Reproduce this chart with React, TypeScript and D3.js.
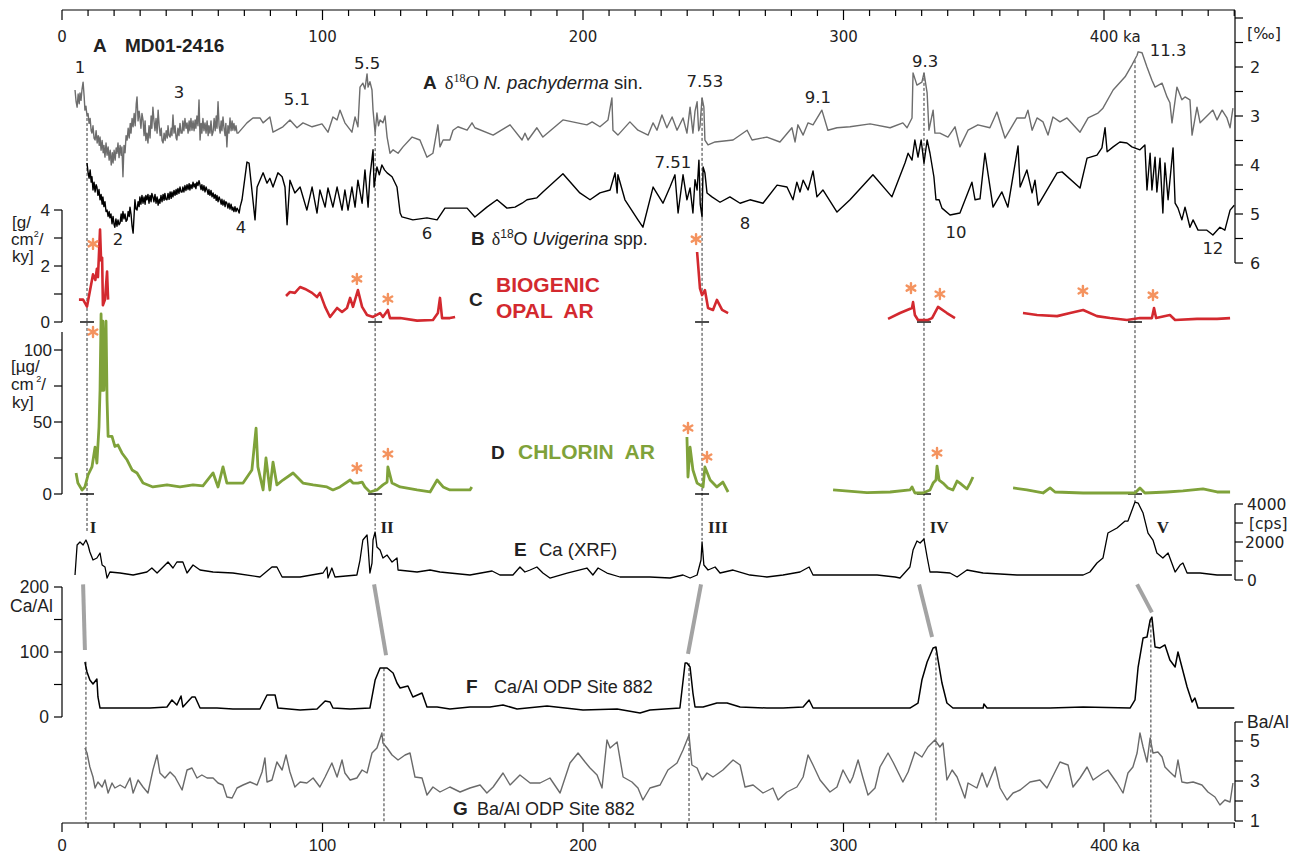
import React from "react";
import * as d3 from "d3";

type P = [number, number];

// ---------- DATA (age ka, value) ----------
// A: d18O N. pachyderma sin. (permil)
const pachyderma: P[] = [
  [5.0,2.47],[5.4,2.70],[5.8,2.82],[6.2,2.55],[6.6,2.75],[6.9,2.53],[7.3,2.68],[7.7,2.45],[8.1,2.31],[8.5,2.60],[8.8,2.88],[9.2,2.80],[9.6,3.00],[10.0,2.95],[10.4,3.15],[10.8,3.05],[11.2,3.30],[11.5,3.35],[11.9,3.20],[12.3,3.45],[12.7,3.49],[13.1,3.30],[13.5,3.55],[13.9,3.40],[14.3,3.60],[14.6,3.43],[15.0,3.70],[15.4,3.50],[15.8,3.75],[16.1,3.60],[16.5,3.84],[16.9,3.55],[17.3,3.80],[17.7,3.63],[18.1,3.90],[18.5,3.70],[18.9,4.00],[19.3,3.75],[19.6,3.96],[20.0,3.70],[20.4,3.90],[20.8,3.65],[21.1,3.76],[21.5,3.55],[21.9,3.85],[22.3,3.60],[22.7,3.80],[23.0,3.63],[23.4,4.24],[23.8,3.60],[24.2,3.75],[24.6,3.40],[25.0,3.49],[25.4,3.25],[25.8,3.45],[26.2,3.15],[26.5,3.35],[26.9,3.05],[27.3,3.22],[27.7,2.95],[28.1,3.20],[28.5,2.75],[28.8,2.61],[29.2,3.10],[29.6,2.90],[29.9,3.02],[30.3,3.25],[30.7,2.95],[31.1,3.08],[31.5,3.40],[31.9,3.10],[32.2,3.50],[32.6,3.35],[33.0,3.55],[33.4,3.20],[33.8,3.45],[34.2,3.00],[34.5,3.25],[34.9,2.82],[35.3,3.10],[35.7,3.30],[36.1,3.05],[36.5,3.35],[36.9,2.88],[37.3,3.20],[37.7,3.40],[38.1,3.25],[38.4,3.50],[38.8,3.55],[39.2,3.35],[39.6,3.50],[40.0,3.30],[40.4,3.45],[40.7,3.20],[41.1,3.40],[41.5,3.43],[41.9,3.25],[42.2,3.40],[42.6,2.98],[43.0,3.35],[43.4,3.20],[43.8,3.45],[44.1,3.49],[44.5,3.25],[44.9,3.40],[45.3,3.15],[45.7,3.35],[46.1,3.35],[46.4,3.10],[46.8,3.30],[47.2,3.05],[47.6,3.25],[48.0,3.14],[48.4,3.35],[48.8,3.10],[49.1,3.30],[49.5,3.05],[49.9,3.29],[50.3,3.10],[50.7,3.30],[51.1,3.08],[51.4,3.25],[51.8,3.00],[52.2,3.20],[52.6,2.67],[53.0,3.49],[53.4,3.15],[53.7,3.35],[54.1,3.05],[54.5,3.30],[54.9,3.14],[55.3,3.35],[55.7,3.10],[56.1,3.40],[56.4,3.20],[56.8,3.35],[57.2,3.10],[57.6,3.40],[58.0,3.33],[58.4,3.05],[58.8,3.30],[59.2,3.00],[59.5,3.25],[59.9,2.71],[60.3,3.20],[60.7,3.35],[61.1,3.10],[61.4,3.30],[61.8,3.02],[62.2,3.25],[62.6,3.40],[62.9,3.15],[63.3,3.63],[63.7,3.20],[64.1,3.35],[64.5,3.04],[64.9,3.30],[65.3,3.10],[65.6,3.29],[66.0,3.15],[66.4,3.30],[66.8,3.20],[67.2,3.35],[67.6,3.35],
  [71.0,3.14],[73.3,3.04],[76.0,3.04],[77.2,3.14],[79.8,3.02],[81.0,3.33],[84.8,3.22],[87.5,3.08],[90.2,3.24],[92.5,3.14],[96.0,3.22],[99.8,3.16],[102.1,3.33],[104.0,3.02],[105.6,3.08],[106.7,2.88],[108.6,3.14],[111.3,3.33],[112.5,3.02],[113.6,3.22],[114.4,2.41],[115.5,2.33],[116.3,2.45],[117.1,2.14],[117.5,2.41],[118.2,2.30],[119.0,2.47],[119.4,2.88],[120.2,3.35],[120.9,2.94],[121.5,3.20],[122.1,3.08],[123.2,3.14],[124.0,3.00],[124.8,3.43],[125.9,3.76],[127.1,3.69],[129.0,3.76],[130.9,3.63],[134.4,3.43],[137.4,3.49],[140.1,3.84],[142.4,3.76],[144.3,3.18],[145.1,3.63],[146.3,3.49],[148.9,3.49],
  [150.1,3.29],[152.0,3.22],[155.5,3.29],[157.4,3.14],[158.5,3.24],[165.5,3.39],[172.0,3.18],[176.6,3.49],[177.7,3.35],[178.9,3.49],[182.3,3.24],[184.6,3.43],[192.3,3.08],[201.5,3.18],[203.5,3.12],[206.5,3.22],[209.6,3.08],[211.1,2.63],[211.5,3.29],[213.4,3.39],[218.0,3.12],[221.1,3.29],[225.0,3.39],[226.9,3.14],[228.4,3.29],[230.3,2.98],[232.2,3.24],[234.2,3.02],[236.1,3.29],[238.4,3.04],[239.9,3.35],[241.1,2.82],[242.2,3.35],[243.0,2.90],[243.8,2.71],[244.4,3.30],[244.9,3.22],[245.7,2.63],[246.4,2.82],[246.8,3.49],[248.0,3.59],[250.7,3.53],[257.6,3.49],[263.0,3.29],[264.9,3.49],[270.6,3.43],[275.6,3.53],[280.2,3.24],[281.4,3.53],[282.5,3.18],[284.5,3.39],[286.4,3.14],[288.3,3.18],[291.7,2.88],[294.0,3.29],[297.5,3.24],[302.5,3.22],
  [310.2,3.16],[317.9,3.24],[322.8,3.14],[324.4,3.24],[326.3,3.04],[326.7,2.12],[328.2,2.37],[330.1,2.31],[330.9,2.12],[332.1,2.53],[332.8,3.29],[334.4,2.88],[335.1,3.35],[337.0,3.35],[340.1,3.43],[342.8,3.22],[344.7,3.63],[347.8,3.29],[351.6,3.18],[356.2,3.24],[358.9,2.92],[362.0,3.45],[366.6,3.04],[369.7,3.04],[370.8,2.88],[372.4,3.29],[374.3,3.04],[376.6,3.12],[378.5,3.39],[380.4,3.02],[383.1,3.12],[385.8,3.04],[390.8,3.33],[393.9,3.04],[397.7,2.94],[399.6,2.84],[403.5,2.47],[408.1,2.20],[410.7,1.96],[412.7,1.76],[413.1,1.69],[414.6,1.71],[416.5,2.00],[418.4,2.27],[419.6,2.41],[422.3,2.33],[424.2,2.61],[425.3,2.73],[426.1,3.14],[428.0,2.41],[429.9,2.67],[431.1,2.61],[433.0,2.67],[433.8,3.39],[435.7,2.82],[436.9,3.14],[439.9,2.98],[441.8,2.88],[443.4,3.08],[445.3,2.88],[447.2,3.04],[448.4,3.24],[449.5,2.84],
];

// B: d18O Uvigerina spp. (permil)
const uvigerina: P[] = [
  [9.6,3.96],[10.0,4.15],[10.4,4.27],[10.8,4.10],[11.2,4.35],[11.5,4.24],[11.9,4.51],[12.3,4.35],[12.7,4.55],[13.1,4.40],[13.4,4.45],[13.8,4.62],[14.2,4.50],[14.6,4.71],[15.0,4.60],[15.4,4.80],[15.7,4.65],[16.1,4.85],[16.5,4.75],[16.9,4.95],[17.3,4.92],[17.7,5.05],[18.1,4.95],[18.4,5.08],[18.8,5.00],[19.2,5.20],[19.6,5.05],[20.0,5.22],[20.3,5.27],[20.7,5.10],[21.1,5.25],[21.5,5.12],[21.9,5.22],[22.3,5.18],[22.7,5.00],[23.0,5.15],[23.4,4.95],[23.8,5.10],[24.2,5.00],[24.6,5.15],[25.0,5.12],[25.4,4.95],[25.8,5.05],[26.1,4.86],[26.5,5.00],[26.9,5.25],[27.3,5.39],[27.7,5.00],[28.0,4.71],[28.4,4.90],[28.8,4.92],[29.2,4.75],[29.6,4.85],[29.9,4.65],[30.3,4.80],[30.7,4.62],[31.1,4.78],[31.5,4.65],[31.9,4.80],[32.2,4.62],[32.6,4.71],[33.0,4.60],[33.4,4.78],[33.8,4.62],[34.2,4.75],[34.5,4.58],[34.9,4.65],[35.3,4.75],[35.7,4.60],[36.1,4.78],[36.5,4.65],[36.9,4.82],[37.3,4.70],[37.6,4.78],[38.0,4.62],[38.4,4.75],[38.8,4.60],[39.2,4.72],[39.5,4.58],[39.9,4.70],[40.3,4.71],[40.7,4.58],[41.1,4.70],[41.5,4.55],[41.9,4.68],[42.2,4.55],[42.6,4.65],[43.0,4.52],[43.4,4.62],[43.8,4.50],[44.1,4.60],[44.5,4.48],[44.9,4.58],[45.3,4.45],[45.7,4.55],[46.1,4.55],[46.4,4.45],[46.8,4.55],[47.2,4.42],[47.6,4.52],[48.0,4.40],[48.4,4.50],[48.8,4.38],[49.1,4.51],[49.5,4.40],[49.9,4.48],[50.3,4.35],[50.7,4.45],[51.1,4.38],[51.4,4.48],[51.8,4.35],[52.2,4.42],[52.6,4.32],[53.0,4.41],[53.4,4.50],[53.7,4.40],[54.1,4.52],[54.5,4.42],[54.9,4.55],[55.3,4.45],[55.7,4.51],[56.1,4.60],[56.4,4.50],[56.8,4.62],[57.2,4.52],[57.6,4.65],[58.0,4.57],[58.4,4.68],[58.8,4.60],[59.2,4.72],[59.5,4.62],[59.9,4.75],[60.3,4.65],[60.7,4.71],[61.1,4.80],[61.4,4.70],[61.8,4.82],[62.2,4.72],[62.6,4.85],[62.9,4.75],[63.3,4.78],[63.7,4.88],[64.1,4.78],[64.5,4.90],[64.9,4.80],[65.3,4.92],[65.6,4.86],[66.0,4.95],[66.4,4.85],[66.8,4.95],[67.2,4.88],[67.6,4.92],[68.0,4.98],[68.4,4.85],[69.1,4.71],
  [71.0,3.94],[71.8,3.96],[74.1,5.12],[74.9,4.45],[77.2,4.16],[78.7,4.37],[79.8,4.27],[81.0,4.45],[82.9,4.16],[84.5,4.24],[85.6,4.45],[86.4,5.22],[87.5,4.31],[89.4,4.57],[91.4,4.45],[94.0,4.92],[96.0,4.45],[97.9,4.98],[99.0,4.51],[101.0,4.86],[102.1,4.47],[104.0,4.86],[105.6,4.45],[107.5,4.92],[108.6,4.51],[109.8,4.92],[111.3,4.45],[112.5,4.86],[113.6,4.31],[115.2,4.78],[116.3,4.10],[117.5,4.86],[118.2,4.24],[119.4,3.69],[119.8,4.45],[120.9,4.04],[121.8,4.20],[122.8,4.00],[123.8,4.10],[124.8,4.16],[126.7,4.24],[128.6,4.45],[129.8,4.98],[130.5,5.06],[134.7,5.12],[140.1,5.08],[144.0,5.12],[147.0,4.88],[150.1,4.88],[155.5,4.88],[158.5,5.06],[163.1,4.86],[167.0,4.71],[170.8,4.88],[173.9,4.86],[176.6,4.78],[178.5,4.71],[182.3,4.67],[184.6,4.55],[192.3,4.18],[198.8,4.57],[202.7,4.71],[206.5,4.57],[210.4,4.51],[212.3,4.16],[213.1,4.57],[213.4,4.20],[216.1,4.71],[221.1,5.12],[223.0,5.27],[226.9,4.45],[230.7,4.78],[233.4,4.45],[235.3,4.20],[236.5,4.98],[238.4,4.20],[239.9,4.71],[241.1,4.47],[242.2,4.98],[243.0,4.30],[243.8,4.51],[244.5,3.90],[245.0,4.80],[245.7,5.06],[246.1,4.04],[246.8,4.16],[247.6,4.57],[249.5,4.65],[252.6,4.76],[256.4,4.65],[260.3,4.78],[264.1,4.71],[269.1,4.78],[274.5,4.41],[278.3,4.45],[280.6,4.71],[282.1,4.35],[283.3,4.55],[284.5,4.31],[286.4,4.51],[288.3,4.12],[289.8,4.65],[292.1,4.51],[297.5,4.96],[302.5,4.71],[311.3,4.20],[318.6,4.65],[323.6,3.96],[324.8,3.76],[326.3,3.90],[327.4,3.49],[328.6,3.84],[329.8,3.49],[330.9,3.96],[332.1,3.49],[333.2,3.76],[334.7,4.24],[335.5,4.71],[336.7,4.71],[337.8,4.88],[340.9,5.02],[344.7,4.98],[349.3,4.35],[350.5,4.71],[352.4,4.69],[354.3,3.76],[357.4,4.86],[360.8,4.55],[363.1,4.86],[367.0,3.61],[367.8,4.45],[370.4,4.10],[372.4,4.57],[373.5,4.31],[374.7,4.82],[382.0,4.16],[383.9,4.14],[390.8,4.47],[393.5,3.86],[397.3,3.80],[399.2,3.65],[400.4,3.24],[401.2,3.73],[403.5,3.63],[406.1,3.53],[408.8,3.55],[410.7,3.63],[413.8,3.69],[415.7,3.59],[416.5,4.51],[417.7,3.76],[418.4,4.51],[419.6,3.84],[420.3,4.55],[421.5,3.86],[422.6,4.98],[423.4,3.96],[424.6,4.71],[426.5,3.65],[427.3,4.78],[428.4,4.88],[429.9,5.12],[431.1,4.86],[433.0,5.27],[434.2,5.12],[436.1,5.33],[439.5,5.33],[441.8,5.43],[444.5,5.27],[446.4,5.33],[448.4,4.92],[450.0,4.82],
];

// C: biogenic opal AR (g/cm2/ky), separate core segments
const opalSegments: P[][] = [
  [[6.5,0.8],[8.1,0.8],[9.6,0.55],[10.7,1.1],[11.9,1.7],[12.8,1.5],[13.4,1.9],[13.8,1.6],[14.6,3.3],[15.0,2.2],[15.4,2.3],[15.7,0.6],[16.5,0.8],[17.3,1.8],[17.7,0.8]],
  [[86.0,0.93],[87.5,1.07],[89.4,1.04],[91.4,1.25],[93.3,1.18],[96.0,1.04],[97.9,0.89],[99.0,1.04],[101.0,0.54],[102.9,0.18],[105.6,0.5],[107.5,0.36],[109.4,0.5],[110.6,0.86],[111.7,0.54],[113.6,1.14],[115.2,0.54],[117.1,0.25],[119.4,0.18],[122.1,0.32],[123.2,0.18],[125.1,0.43],[125.9,0.14],[129.8,0.14],[136.3,0.05],[142.4,0.07],[144.3,0.32],[145.1,0.86],[145.9,0.14],[148.9,0.14],[150.9,0.18]],
  [[243.8,2.5],[244.9,1.2],[245.7,0.96],[246.8,1.14],[248.0,0.5],[249.9,0.43],[251.4,0.79],[253.4,0.43],[255.7,0.32]],
  [[317.1,0.11],[321.7,0.32],[326.3,0.5],[326.7,0.71],[327.4,0.25],[328.6,0.07],[332.4,0.07],[334.0,0.14],[336.3,0.54],[339.7,0.32],[342.8,0.14]],
  [[368.9,0.32],[374.3,0.25],[382.0,0.21],[387.0,0.32],[392.0,0.43],[397.3,0.21],[402.3,0.14],[408.8,0.07],[413.8,0.14],[418.4,0.14],[419.2,0.5],[420.0,0.14],[425.3,0.25],[427.3,0.07],[435.7,0.11],[443.4,0.11],[448.4,0.14]],
];

// D: chlorin AR (ug/cm2/ky)
const chlorinSegments: P[][] = [
  [[5.4,14.6],[6.1,7.6],[7.7,2.8],[8.8,4.9],[10.0,13.2],[11.5,18.8],[12.7,32.6],[13.4,21.5],[14.2,46.5],[14.6,72.2],[15.0,125],[15.4,72],[15.7,120],[16.1,72],[16.9,120],[17.3,65],[17.7,40],[19.2,40],[20.3,33],[21.5,34],[23.0,28.5],[25.0,23.6],[26.9,16.7],[28.8,14.6],[31.1,7.6],[34.9,4.9],[40.3,6.3],[45.3,4.9],[50.3,6.3],[54.1,5.6],[58.0,14.6],[59.9,4.9],[61.8,18.8],[63.3,7.6],[65.6,7.6],[69.5,7.6],[72.9,16.7],[74.5,45.8],[75.2,18.8],[77.2,2.8],[78.3,25],[79.8,2.8],[81.0,22.2],[82.5,6.3],[84.8,9.7],[88.7,14.6],[92.5,7.6],[96.4,6.3],[101.7,4.9],[104.0,2.8],[106.7,4.9],[110.6,9.7],[111.7,7.6],[113.6,7.6],[115.2,8.3],[116.3,4.9],[118.2,1.4],[120.9,2.8],[123.2,6.3],[124.8,8.3],[125.1,18.8],[126.7,7.6],[129.8,4.9],[136.3,2.8],[141.3,1.4],[144.0,9.7],[146.3,4.9],[148.9,2.8],[156.6,2.8],[157.3,4.9]],
  [[239.9,39.6],[240.3,11.8],[241.1,32.6],[242.2,16.7],[243.8,7.6],[244.9,6.3],[246.1,4.9],[246.8,18.8],[248.8,9.7],[251.4,4.9],[253.7,8.3],[255.7,1.4]],
  [[296.0,2.8],[309.0,1.0],[317.9,1.4],[325.5,2.8],[326.3,4.9],[327.4,0.7],[330.5,0.7],[333.2,2.8],[334.4,7.6],[335.5,9.7],[335.9,19.4],[336.7,9.7],[338.2,7.6],[340.1,4.2],[342.0,2.8],[343.6,9.0],[344.7,7.6],[347.4,3.5],[348.6,7.6],[349.7,11.8]],
  [[365.1,4.2],[370.4,2.8],[376.6,0.7],[379.3,4.2],[381.2,1.4],[392.0,0.7],[407.3,0.7],[411.9,0.7],[413.8,4.2],[415.7,0.7],[424.2,1.4],[430.3,2.1],[438.0,3.5],[443.4,1.4],[448.4,1.4]],
];

// E: Ca XRF (cps)
const caXrf: P[] = [
  [5.0,263],[5.8,1841],[6.9,2000],[8.1,1841],[9.2,2104],[10.0,1841],[10.7,1473],[11.9,1052],[13.4,1157],[14.6,1420],[15.4,789],[16.5,684],[17.3,105],[18.4,421],[22.3,368],[27.3,263],[32.6,421],[34.5,631],[36.5,368],[38.8,684],[40.7,947],[42.6,631],[44.1,947],[46.4,947],[48.0,368],[50.3,789],[53.0,526],[58.0,421],[65.6,368],[76.0,158],[80.6,684],[82.5,684],[84.5,158],[91.4,158],[100.2,368],[101.7,684],[102.1,105],[103.6,631],[104.8,158],[113.2,263],[114.4,1052],[115.5,2104],[117.1,2367],[117.5,1736],[118.2,368],[119.0,894],[119.4,2104],[120.2,2525],[120.9,1736],[122.1,1578],[123.2,1157],[124.8,1315],[126.7,947],[128.6,1157],[129.0,526],[136.3,421],[141.3,526],[145.1,421],[148.9,368],[156.6,263],[165.1,473],[168.1,263],[173.1,263],[175.8,684],[177.7,421],[179.7,526],[182.3,684],[184.6,368],[187.3,105],[193.9,368],[201.5,631],[203.8,263],[205.8,631],[209.2,368],[214.2,158],[225.7,158],[233.4,105],[238.4,263],[241.1,105],[243.8,263],[245.3,1052],[245.7,2000],[246.4,789],[248.0,526],[250.7,684],[252.6,368],[257.6,526],[264.1,263],[270.6,158],[276.8,263],[283.3,421],[286.8,684],[288.3,263],[296.0,263],[309.0,263],[312.9,263],[319.8,158],[321.7,105],[325.5,684],[326.7,1578],[328.2,2052],[329.4,1946],[330.9,2157],[332.1,1210],[333.2,421],[335.9,421],[340.9,368],[343.6,158],[347.4,526],[353.6,368],[366.6,263],[379.3,263],[392.0,263],[394.6,421],[397.3,894],[399.6,1157],[401.5,2472],[405.0,2735],[408.1,3103],[409.2,3103],[411.9,4103],[413.1,4050],[415.0,3524],[416.9,2472],[418.8,2104],[420.3,1420],[422.6,1157],[424.6,1420],[427.3,421],[429.2,789],[430.3,894],[431.9,368],[436.9,368],[443.4,263],[449.1,263],
];

// F: Ca/Al ODP Site 882
const caAl: P[] = [
  [8.8,84.6],[9.6,69.2],[10.7,56.9],[11.9,50.8],[13.4,58.5],[13.8,30.8],[14.6,13.8],[17.3,13.8],[25.0,13.8],[33.8,13.8],[40.3,15.4],[42.2,26.2],[44.1,18.5],[45.7,32.3],[46.4,15.4],[49.9,30.8],[51.1,30.8],[53.0,13.8],[59.5,13.8],[65.6,12.3],[76.0,12.3],[78.7,33.8],[81.8,33.8],[82.9,13.8],[91.4,10.8],[97.9,12.3],[101.0,24.6],[102.9,23.1],[104.0,13.8],[110.6,12.3],[118.2,13.8],[120.2,56.9],[122.1,75.4],[124.8,75.4],[127.1,67.7],[128.6,52.3],[129.8,44.6],[132.8,47.7],[134.7,30.8],[138.2,36.9],[140.1,15.4],[144.0,15.4],[148.9,12.3],[156.6,15.4],[164.3,15.4],[169.3,18.5],[174.7,12.3],[186.2,16.9],[200.0,10.8],[213.1,12.3],[221.9,6.2],[225.7,10.8],[237.2,13.8],[239.2,83.1],[239.9,83.1],[241.1,76.9],[242.2,36.9],[243.0,15.4],[246.1,15.4],[251.4,21.5],[255.3,21.5],[260.3,15.4],[270.6,13.8],[276.8,13.8],[284.5,15.4],[286.8,26.2],[288.3,13.8],[302.5,13.8],[315.2,13.8],[325.5,13.8],[328.6,21.5],[330.1,56.9],[332.1,84.6],[334.4,106.2],[335.5,107.7],[336.3,87.7],[337.8,52.3],[339.7,21.5],[342.0,13.8],[353.6,13.8],[353.9,20],[355.1,13.8],[379.3,13.8],[392.0,15.4],[410.0,13.8],[411.9,26.2],[413.1,76.9],[415.0,121.5],[416.5,123],[417.7,149],[418.4,153.8],[419.6,107.7],[421.5,106.2],[423.4,110.8],[425.3,87.7],[427.3,76.9],[428.4,100],[429.9,76.9],[431.9,46.2],[433.8,23.1],[434.9,29.2],[436.1,13.8],[443.4,13.8],[450.0,13.8],
];

// G: Ba/Al ODP Site 882
const baAl: P[] = [
  [8.8,4.65],[9.6,4.40],[10.7,3.70],[11.9,3.20],[12.7,2.65],[13.8,2.95],[15.4,2.70],[16.5,3.05],[17.7,2.40],[19.2,2.90],[20.3,2.65],[22.3,2.80],[24.2,2.65],[26.1,3.15],[27.3,2.40],[29.2,3.05],[31.1,2.70],[33.0,2.40],[34.9,3.55],[36.5,4.30],[37.6,3.40],[39.5,3.15],[41.5,3.45],[43.4,3.20],[46.1,2.55],[48.0,3.55],[49.9,3.65],[51.8,3.15],[53.7,3.30],[55.7,3.15],[58.0,3.15],[59.9,2.90],[61.8,2.80],[63.3,2.20],[65.3,2.15],[67.2,2.65],[69.5,2.80],[72.2,2.95],[74.9,2.80],[76.8,3.45],[77.9,4.15],[78.7,2.95],[80.6,3.05],[82.5,3.95],[84.5,3.55],[86.0,4.30],[87.5,3.45],[89.4,2.70],[91.4,2.95],[94.0,2.90],[96.4,3.15],[99.0,2.70],[101.0,3.20],[103.6,3.90],[105.6,3.20],[107.5,4.05],[108.6,3.40],[110.6,3.05],[113.2,3.15],[115.2,3.55],[117.1,3.40],[119.0,4.40],[120.9,4.65],[122.8,5.40],[123.2,4.90],[124.8,4.65],[126.7,4.30],[129.0,4.05],[131.7,4.30],[133.6,4.40],[135.5,3.20],[138.2,3.15],[140.1,2.30],[142.4,2.70],[145.1,2.45],[148.9,2.70],[152.8,2.45],[156.6,2.65],[160.5,2.80],[163.1,2.40],[165.5,2.70],[169.3,3.40],[172.0,2.80],[175.8,3.30],[179.7,2.90],[183.5,2.90],[187.3,3.15],[191.2,2.40],[195.0,3.90],[198.1,4.40],[200.8,3.95],[202.7,3.65],[205.4,3.30],[207.3,2.65],[209.2,5.05],[210.4,4.65],[213.1,4.95],[215.4,3.20],[218.8,2.95],[221.1,2.65],[223.0,2.05],[225.7,2.65],[229.6,2.80],[232.6,3.55],[236.1,3.90],[238.4,4.55],[240.7,5.30],[241.8,3.80],[243.8,3.65],[245.7,3.05],[247.6,3.40],[249.9,3.20],[253.7,3.55],[257.6,4.05],[260.3,3.80],[262.2,2.70],[265.3,2.80],[269.1,2.40],[272.9,2.65],[274.9,2.05],[278.3,2.45],[282.1,2.70],[284.5,3.20],[286.4,4.30],[288.3,3.80],[291.0,3.05],[294.8,2.45],[297.5,2.70],[299.8,3.55],[302.5,2.90],[303.6,3.20],[305.6,4.05],[307.5,3.15],[309.4,2.30],[312.1,2.65],[314.0,3.70],[317.1,4.40],[319.0,3.95],[322.8,2.95],[324.8,3.45],[327.4,4.45],[330.1,4.20],[332.4,4.70],[335.1,5.05],[337.0,4.70],[338.2,4.90],[339.7,3.05],[341.7,3.55],[343.6,3.20],[346.6,2.15],[347.8,2.90],[351.2,2.65],[353.2,3.40],[355.1,2.70],[358.2,3.70],[360.1,2.65],[362.8,2.05],[365.1,2.40],[367.8,2.55],[371.6,2.95],[375.4,3.05],[378.1,2.65],[383.1,3.95],[386.2,3.80],[388.1,2.70],[390.8,3.15],[393.5,3.70],[395.8,3.05],[399.6,3.40],[401.5,3.55],[405.0,2.90],[407.3,2.40],[409.2,3.40],[411.1,3.70],[412.7,4.40],[413.8,5.40],[415.0,4.70],[416.5,3.95],[417.7,5.15],[418.8,4.40],[420.7,4.45],[422.3,4.20],[423.4,3.70],[425.3,3.45],[427.3,3.20],[428.4,4.05],[429.9,2.95],[431.9,2.90],[434.2,2.95],[437.6,2.80],[439.9,2.45],[442.6,2.20],[444.5,1.80],[446.4,2.05],[448.4,1.95],[449.5,2.90],
];

// Marine isotope stage labels (age, permil)
const stageLabels: { t: string; age: number; v: number }[] = [
  { t: "1", age: 6.9, v: 2.0 }, { t: "3", age: 44.9, v: 2.51 }, { t: "5.1", age: 90.2, v: 2.65 },
  { t: "5.5", age: 117.1, v: 1.92 }, { t: "7.53", age: 246.8, v: 2.29 }, { t: "9.1", age: 290.2, v: 2.61 },
  { t: "9.3", age: 331.3, v: 1.88 }, { t: "11.3", age: 424.6, v: 1.65 }, { t: "2", age: 21.5, v: 5.5 },
  { t: "4", age: 68.7, v: 5.27 }, { t: "6", age: 140.1, v: 5.39 }, { t: "7.51", age: 234.5, v: 3.94 },
  { t: "8", age: 262.2, v: 5.18 }, { t: "10", age: 343.2, v: 5.37 }, { t: "12", age: 441.8, v: 5.69 },
];

// Terminations
const terminationNames = ["I", "II", "III", "IV", "V"];
const terminationCore = [9.6, 120.2, 245.7, 330.9, 411.9];
const coreDashTop = [3.04, 3.35, 2.63, 2.12, 1.86];
const coreDashBottom = [2500, 2650, 2100, 2100, 4100];
const romanAge = [11.9, 124.8, 251.8, 336.7, 422.6];
const terminationOdp = [9.2, 123.6, 240.7, 335.5, 418.0];
const odpDashTop = [85, 75, 83, 107, 150];
const tieTopAge = [8.1, 119.8, 245.3, 329.0, 412.7];
const tieBottomAge = [8.8, 124.4, 240.3, 334.0, 418.4];
const tieBottomVal = [103, 95, 97, 123, 161];

// Asterisks
const opalStars: P[] = [[11.9,2.79],[113.2,1.54],[125.1,0.82],[243.4,2.96],[325.9,1.21],[337.0,1.0],[391.9,1.11],[418.8,0.96]];
const chlorinStars: P[] = [[11.9,112.5],[113.2,18],[125.1,27.8],[240.3,45.8],[247.6,25.7],[335.9,28.5]];

const SANS = "'Liberation Sans', Arial, Helvetica, sans-serif";
const DJ = "'DejaVu Sans', sans-serif";
const SERIF = "'Liberation Serif', 'Times New Roman', serif";
const RED = "#d3292f";
const GREEN = "#7fa23a";
const ORANGE = "#f4935f";
const GREYA = "#6d6d6d";
const GREYG = "#6a6a6a";

function Star({ cx, cy }: { cx: number; cy: number }) {
  const r = 5;
  const angs = [90, 30, 150];
  return (
    <g stroke={ORANGE} strokeWidth={2.4} strokeLinecap="round">
      {angs.map((a) => {
        const rad = (a * Math.PI) / 180;
        return (
          <line key={a} x1={cx - r * Math.cos(rad)} y1={cy - r * Math.sin(rad)} x2={cx + r * Math.cos(rad)} y2={cy + r * Math.sin(rad)} />
        );
      })}
    </g>
  );
}

export default function App() {
  const x = d3.scaleLinear().domain([0, 450]).range([62, 1234.25]);
  const yAB = d3.scaleLinear().domain([1, 6]).range([18, 263]);
  const yC = d3.scaleLinear().domain([0, 4]).range([322, 210]);
  const yD = d3.scaleLinear().domain([0, 100]).range([494, 350]);
  const yE = d3.scaleLinear().domain([0, 4000]).range([580, 504]);
  const yF = d3.scaleLinear().domain([0, 200]).range([717, 587]);
  const yG = d3.scaleLinear().domain([1, 5]).range([821, 741]);

  const mk = (ys: d3.ScaleLinear<number, number>) =>
    d3.line<P>().x((d) => x(d[0])).y((d) => ys(d[1]));

  const lineAB = mk(yAB);
  const lineC = mk(yC);
  const lineD = mk(yD);
  const lineE = mk(yE);
  const lineF = mk(yF);
  const lineG = mk(yG);

  const xL = x(0);
  const xR = 1235;
  const minorTicks = d3.range(0, 451, 10);
  const majorTicks = [0, 100, 200, 300, 400];

  const leftAxis = (ys: d3.ScaleLinear<number, number>, top: number, bottom: number, ticks: number[]) => (
    <g stroke="#000" strokeWidth={1.2}>
      <line x1={xL} x2={xL} y1={ys(top)} y2={ys(bottom)} />
      {ticks.map((t) => (
        <line key={t} x1={xL - 8} x2={xL} y1={ys(t)} y2={ys(t)} />
      ))}
    </g>
  );
  const rightAxis = (ys: d3.ScaleLinear<number, number>, top: number, bottom: number, ticks: number[]) => (
    <g stroke="#000" strokeWidth={1.2}>
      <line x1={xR} x2={xR} y1={ys(top)} y2={ys(bottom)} />
      {ticks.map((t) => (
        <line key={t} x1={xR} x2={xR + 8} y1={ys(t)} y2={ys(t)} />
      ))}
    </g>
  );

  return (
    <svg width={1301} height={856} style={{ position: "absolute", left: 0, top: 0, background: "#fff" }}>
      {/* top axis */}
      <g stroke="#000" strokeWidth={1.2}>
        <line x1={xL} x2={xR} y1={10} y2={10} />
        {minorTicks.map((t) => (
          <line key={t} x1={x(t)} x2={x(t)} y1={10} y2={t % 100 === 0 ? 20 : 16} />
        ))}
      </g>
      <g fontFamily={DJ} fontSize={15} fill="#222">
        {majorTicks.map((t) =>
          t === 400 ? (
            <text key={t} x={x(t) - 14.3} y={42}>400 ka</text>
          ) : (
            <text key={t} x={x(t)} y={42} textAnchor="middle">{t}</text>
          )
        )}
      </g>
      {/* bottom axis */}
      <g stroke="#000" strokeWidth={1.2}>
        <line x1={xL} x2={xR} y1={823} y2={823} />
        {minorTicks.map((t) => (
          <line key={t} x1={x(t)} x2={x(t)} y1={823} y2={t % 100 === 0 ? 832 : 828} />
        ))}
      </g>
      <g fontFamily={SANS} fontSize={16.5} fill="#222">
        {majorTicks.map((t) =>
          t === 400 ? (
            <text key={t} x={x(t) - 13.8} y={851}>400 ka</text>
          ) : (
            <text key={t} x={x(t)} y={851} textAnchor="middle">{t}</text>
          )
        )}
      </g>

      {/* A/B right axis */}
      {rightAxis(yAB, 0.84, 6, d3.range(1, 6.01, 0.5))}
      <g fontFamily={DJ} fontSize={16} fill="#222">
        <text x={1247} y={39}>[‰]</text>
        {[2, 3, 4, 5, 6].map((t) => (
          <text key={t} x={1250} y={yAB(t) + 6}>{t}</text>
        ))}
      </g>

      {/* C left axis */}
      {leftAxis(yC, 4, 0, [0, 1, 2, 3, 4])}
      <g fontFamily={SANS} fontSize={17} fill="#222">
        {[0, 2, 4].map((t) => (
          <text key={t} x={50} y={yC(t) + 6} textAnchor="end">{t}</text>
        ))}
        <text x={12} y={228}>[g/</text>
        <text x={11} y={245}>cm<tspan fontSize={9} dy={-8}>2</tspan><tspan dy={8}>/</tspan></text>
        <text x={12} y={262}>ky]</text>
      </g>

      {/* D left axis */}
      {leftAxis(yD, 112.5, 0, [0, 25, 50, 75, 100])}
      <g fontFamily={SANS} fontSize={17} fill="#222">
        {[0, 50, 100].map((t) => (
          <text key={t} x={52} y={yD(t) + 6} textAnchor="end">{t}</text>
        ))}
        <text x={11} y={372}>[µg/</text>
        <text x={11} y={390}>cm<tspan fontSize={9} dy={-8}> 2</tspan><tspan dy={8}>/</tspan></text>
        <text x={12} y={408}>ky]</text>
      </g>

      {/* E right axis */}
      {rightAxis(yE, 4000, 0, [0, 1000, 2000, 3000, 4000])}
      <g fontFamily={DJ} fontSize={15.5} fill="#222">
        <text x={1247} y={yE(4000) + 6}>4000</text>
        <text x={1249} y={yE(3000) + 6}>[cps]</text>
        <text x={1245} y={yE(2000) + 6}>2000</text>
        <text x={1247} y={yE(0) + 6}>0</text>
      </g>

      {/* F left axis */}
      {leftAxis(yF, 200, 0, [0, 50, 100, 150, 200])}
      <g fontFamily={SANS} fontSize={17.5} fill="#222">
        {[0, 100, 200].map((t) => (
          <text key={t} x={49} y={yF(t) + 6} textAnchor="end">{t}</text>
        ))}
        <text x={10} y={612}>Ca/Al</text>
      </g>

      {/* G right axis */}
      {rightAxis(yG, 5.95, 1, [1, 2, 3, 4, 5, 5.95])}
      <g fontFamily={SANS} fontSize={17.5} fill="#222">
        <text x={1247} y={yG(5.95) + 6}>Ba/Al</text>
        {[1, 3, 5].map((t) => (
          <text key={t} x={1250} y={yG(t) + 6}>{t}</text>
        ))}
      </g>

      {/* dashed termination lines */}
      <g stroke="#333" strokeWidth={1} strokeDasharray="3,2" fill="none">
        {terminationCore.map((a, i) => (
          <line key={"c" + i} x1={x(a)} x2={x(a)} y1={yAB(coreDashTop[i])} y2={yE(coreDashBottom[i])} />
        ))}
        {terminationOdp.map((a, i) => (
          <line key={"o" + i} x1={x(a)} x2={x(a)} y1={yF(odpDashTop[i])} y2={823} />
        ))}
      </g>

      {/* grey tie lines */}
      <g stroke="#a3a3a3" strokeWidth={4}>
        {tieTopAge.map((a, i) => (
          <line key={i} x1={x(a)} y1={yF(204)} x2={x(tieBottomAge[i])} y2={yF(tieBottomVal[i])} />
        ))}
      </g>

      {/* baseline marks at terminations */}
      <g stroke="#000" strokeWidth={1.4}>
        {terminationCore.map((a, i) => (
          <g key={i}>
            <line x1={x(a) - 7} x2={x(a) + 7} y1={yC(0)} y2={yC(0)} />
            <line x1={x(a) - 7} x2={x(a) + 7} y1={yD(0)} y2={yD(0)} />
          </g>
        ))}
      </g>

      {/* curves */}
      <path d={lineAB(pachyderma) || ""} fill="none" stroke={GREYA} strokeWidth={1.4} strokeLinejoin="round" />
      <path d={lineAB(uvigerina) || ""} fill="none" stroke="#000" strokeWidth={1.4} strokeLinejoin="round" />
      {opalSegments.map((s, i) => (
        <path key={i} d={lineC(s) || ""} fill="none" stroke={RED} strokeWidth={2.6} strokeLinejoin="round" />
      ))}
      {chlorinSegments.map((s, i) => (
        <path key={i} d={lineD(s) || ""} fill="none" stroke={GREEN} strokeWidth={2.8} strokeLinejoin="round" />
      ))}
      <path d={lineE(caXrf) || ""} fill="none" stroke="#000" strokeWidth={1.3} strokeLinejoin="round" />
      <path d={lineF(caAl) || ""} fill="none" stroke="#000" strokeWidth={1.5} strokeLinejoin="round" />
      <path d={lineG(baAl) || ""} fill="none" stroke={GREYG} strokeWidth={1.4} strokeLinejoin="round" />

      {/* asterisks */}
      {opalStars.map((p, i) => (
        <Star key={"s" + i} cx={x(p[0])} cy={yC(p[1])} />
      ))}
      {chlorinStars.map((p, i) => (
        <Star key={"d" + i} cx={x(p[0])} cy={yD(p[1])} />
      ))}

      {/* stage labels */}
      <g fontFamily={DJ} fontSize={16.5} fill="#222" textAnchor="middle">
        {stageLabels.map((s) => (
          <text key={s.t} x={x(s.age)} y={yAB(s.v) + 6}>{s.t}</text>
        ))}
      </g>

      {/* roman numerals */}
      <g fontFamily={SERIF} fontWeight="bold" fontSize={17} fill="#222" textAnchor="middle">
        {terminationNames.map((n, i) => (
          <text key={n} x={x(romanAge[i])} y={yE(2470)}>{n}</text>
        ))}
      </g>

      {/* panel titles */}
      <g fill="#222">
        <text x={93} y={52} fontFamily={SANS} fontWeight="bold" fontSize={19}>A</text>
        <text x={125} y={52} fontFamily={SANS} fontWeight="bold" fontSize={19}>MD01-2416</text>

        <text x={423} y={89} fontSize={18.5}>
          <tspan fontFamily={SANS} fontWeight="bold" fontSize={19}>A</tspan>
          <tspan fontFamily={SERIF} dx={8}>δ</tspan>
          <tspan fontFamily={SERIF} fontSize={12} dy={-7}>18</tspan>
          <tspan fontFamily={SERIF} dy={7}>O </tspan>
          <tspan fontFamily={SANS} fontStyle="italic">N. pachyderma</tspan>
          <tspan fontFamily={SANS}> sin.</tspan>
        </text>

        <text x={471} y={245} fontSize={18}>
          <tspan fontFamily={SANS} fontWeight="bold" fontSize={19}>B</tspan>
          <tspan fontFamily={SERIF} dx={7}>δ</tspan>
          <tspan fontFamily={SANS} fontSize={12} dy={-7}>18</tspan>
          <tspan fontFamily={SANS} dy={7}>O </tspan>
          <tspan fontFamily={SANS} fontStyle="italic">Uvigerina</tspan>
          <tspan fontFamily={SANS}> spp.</tspan>
        </text>

        <text x={469} y={306} fontFamily={SANS} fontWeight="bold" fontSize={19}>C</text>
        <text x={496} y={292} fontFamily={SANS} fontWeight="bold" fontSize={21} fill={RED}>BIOGENIC</text>
        <text x={496} y={318} fontFamily={SANS} fontWeight="bold" fontSize={21} fill={RED} style={{ whiteSpace: "pre" }}>OPAL  AR</text>

        <text x={491} y={459} fontFamily={SANS} fontWeight="bold" fontSize={19}>D</text>
        <text x={518} y={459} fontFamily={SANS} fontWeight="bold" fontSize={21} fill={GREEN} style={{ whiteSpace: "pre" }}>CHLORIN  AR</text>

        <text x={514} y={556} fontFamily={SANS} fontWeight="bold" fontSize={19}>E</text>
        <text x={539} y={556} fontFamily={SANS} fontSize={18.5}>Ca (XRF)</text>

        <text x={466} y={693} fontFamily={SANS} fontWeight="bold" fontSize={19}>F</text>
        <text x={494} y={693} fontFamily={SANS} fontSize={18}>Ca/Al ODP Site 882</text>

        <text x={453} y={815} fontFamily={SANS} fontWeight="bold" fontSize={19}>G</text>
        <text x={477} y={815} fontFamily={SANS} fontSize={18}>Ba/Al ODP Site 882</text>
      </g>
    </svg>
  );
}
